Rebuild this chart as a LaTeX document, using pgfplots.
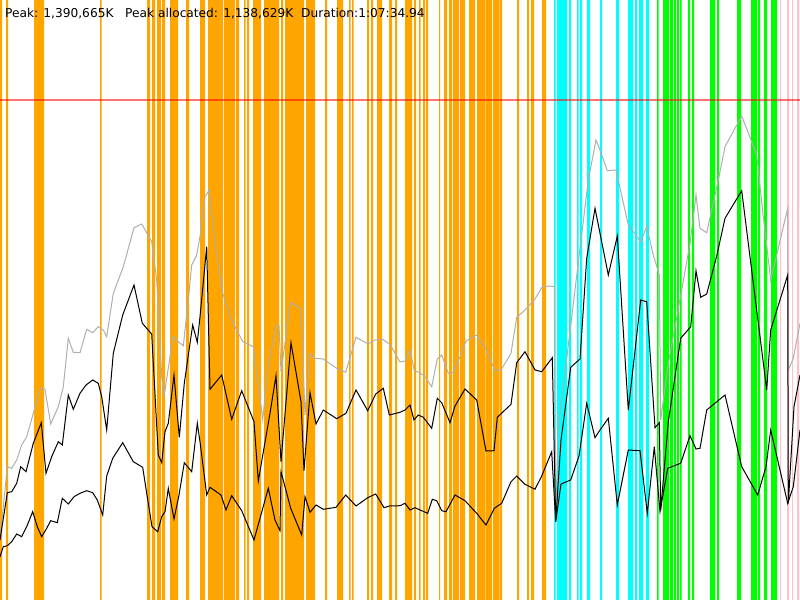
\documentclass[border=0pt]{standalone}
\usepackage{pgfplots}
\pgfplotsset{compat=1.18}
\usepackage{pgfplotstable}
\usepackage{fontspec}
\setmainfont{DejaVu Sans}
\definecolor{orng}{RGB}{255,165,0}
\definecolor{cyn}{RGB}{0,255,255}
\definecolor{grn}{RGB}{0,255,0}
\definecolor{pnk}{RGB}{255,192,203}
\definecolor{lgray}{RGB}{175,175,175}

% bars: start (y=600) and end (y=0) of each band
\pgfplotstableread{
x y
0 600
2 0
6 600
8 0
34 600
44 0
100 600
101.5 0
147 600
150 0
152 600
155 0
157 600
161 0
162 600
165 0
170 600
178 0
186 600
189 0
200 600
205 0
208 600
223 0
224 600
235 0
236 600
239 0
244 600
245.5 0
247 600
249 0
253 600
261 0
264 600
279 0
281 600
283 0
285 600
304 0
306 600
315 0
325 600
327 0
337 600
343 0
349 600
350.5 0
352 600
353.5 0
367 600
369 0
371 600
373 0
377 600
382 0
389 600
392 0
395 600
397 0
405 600
412 0
414 600
416 0
419 600
420.5 0
423 600
425 0
426 600
428 0
439 600
440 0
444 600
447 0
449 600
452 0
453 600
459 0
460 600
465 0
469 600
475 0
477 600
485 0
485.5 600
492 0
493 600
499 0
499.5 600
502 0
517 600
519 0
527 600
529 0
531 600
534 0
542 600
546 0
}\orangebars

\pgfplotstableread{
x y
554 600
555.5 0
557 600
567 0
569 600
571 0
577 600
578.5 0
580 600
582 0
587 600
590 0
600 600
602 0
616 600
619 0
628 600
633 0
635 600
637 0
639 600
643 0
646 600
649 0
}\cyanbars

\pgfplotstableread{
x y
657 600
658.5 0
663 600
669 0
670 600
673 0
674 600
676 0
677 600
679 0
680 600
681.5 0
688 600
690 0
692 600
694 0
710 600
715 0
717 600
719 0
737 600
741 0
751 600
757 0
758 600
760 0
764 600
767 0
771 600
777 0
}\greenbars

\pgfplotstableread{
x y
780 600
781 0
787 600
789 0
792 600
793 0
797 600
799 0
}\pinkbars

\pgfplotstableread{
x y
0 540
7.3 466.7
11.7 468.3
16.7 460
21.7 445
26.7 436.7
33.3 413.3
40.7 388.3
45 389.3
50.7 424
58.3 406.7
63.3 386.7
68.3 338.3
73.3 352.3
80 352.7
86.7 329.3
92.7 332.7
98.3 326.7
103.3 330
106.7 336.7
113.3 293.3
123.3 266.7
134 227.7
141.7 224
151.7 241.7
156.7 280
161.7 376.7
164.3 395
170 356.7
173.3 336.7
178.3 341.7
183.3 345.7
188.3 300
191.7 265
196.7 255
200 236.7
205 196.7
209.3 190
215 243.3
222.7 293.3
231.7 320
242.7 341.7
253.3 346.7
262.7 419.3
268.3 366.7
276 325.7
279 325.7
281 371.7
290.7 302.7
301 308.3
305 415
310 353.3
315 358.3
323.3 359
336.7 368.3
345.7 372.3
356 337.3
368.3 344
375 340
382.7 339.3
390 344.3
400 362
405 361
410 350
414.3 370.7
420 372.7
425 376.7
431.7 386.7
437.3 359
441.7 355
448.3 373.3
453.3 372.3
460 356.7
466 341
476.7 335
486 349.3
495 370.7
501 370
511 353.3
516.7 317.3
525 310
535 299
541.7 287.7
548.3 286
554.3 286.7
555.7 521
558 430
588.3 180
596 140
600 150
607.3 170.7
616 170
628.3 225
640.7 241.7
646.7 226.7
653.3 255
659.3 275
660.7 420
668.3 363.3
681.7 290
690 243.3
696 195
700 228.3
706.7 232.7
718.3 180
725 146.7
741.7 116
756.7 155
763.3 216.7
770.7 280
787.7 208.3
788.3 370
793.3 358.3
800 323.3
}\graydata

\pgfplotstableread{
x y
0 540
7.3 492.7
11.7 491.7
16.7 483.3
20.7 466.7
26 471.7
33.3 443.3
41.3 422.7
46 473.3
51.7 456.7
58.3 441.7
62.3 445
68.3 395
73.3 409.3
80 393.3
86 385
92.7 380
98.3 383.3
101.7 396.7
106.7 430
113.3 353.3
122.7 315
134 285
142.3 323.3
151.7 334
158.3 455
161.7 462.7
165 431.7
168.3 423.3
174 375
179.3 437.3
184.3 383.3
189.3 348.3
192.7 325
197.3 342.3
200 316.7
206.7 246.7
210 389.3
221.7 375
231.7 419.3
241.7 390.7
254 421.7
258.3 481
270 413.3
276 375.7
281 461.7
291 342.7
301 401.7
304 470.7
310 392.7
316 424
323.3 410
336.7 418.7
346 413.3
356 390
367.7 410.7
375.7 394
383.3 388.3
389.3 415
400 412.3
405 410
410 405
414 420
418.3 415
423.3 417.3
431.7 428.3
437.3 398.3
441.7 402.7
450 422.7
455 406
465 389
476.7 400
486 451
494 450.7
497.3 417.3
511 404.3
516.7 362.7
525 351.7
535 370
541.7 371.7
552.3 357.7
555.7 521.7
561 440
570.7 367.3
580 359
586.7 258.3
595 208.3
600 233.3
608.3 275
617.3 236
628.3 410
640.7 300
646.7 301.7
655 427.7
659.3 422.7
660.7 510
668.3 421.7
680.7 338.3
690.7 326.7
696 270.7
700.7 297.3
706.7 294
716.7 256
725 218.3
741.7 190.7
766.7 390
770.7 330
787.7 275
788.3 503.3
794 406.7
800 375
}\middata

\pgfplotstableread{
x y
0 556.7
3.3 546.7
7.3 545.7
11.7 541.7
16.7 534
21.7 536.7
26.7 526.7
32.7 511.7
37.3 526.7
41.7 536.7
46.7 528.3
50.7 520.7
57.3 522.7
62.3 498.3
68.3 504
74 496.7
80 493.3
86.7 490.7
92.7 492.7
97.3 500
102.7 515
106.7 476
112.7 458.3
122.7 442.7
133.3 461.7
142.7 467.3
146.7 493.3
152 526.7
157.7 531.7
161.7 516.7
165 511.7
168.3 488.3
174 519
179 495
184.3 462.7
191.7 471.7
197.3 423.3
200 441.7
206.7 495
210 487.3
221 495
226 510
231.7 495.7
241.7 510.7
254 540
268.3 488.3
275 520
280 530.7
281 471.7
290.7 508.3
301.7 535
305 496.7
310 512.3
316 505
323.3 509.3
336 507.3
345.7 495
356 506
367.7 497.7
375.7 494
384 507.7
389.3 506
400 505.7
405 503.3
410 510
415 507.7
421.7 510.7
427.7 513.3
432.3 499.3
436.7 500.7
441.7 510.7
446 511.7
455 495
465 500.7
476.7 513.3
486 525
494.3 508.3
501.7 503.3
511 481.7
516.7 476
525 484.3
535 489.3
541.7 476
551.7 451.7
555.7 521.7
561 484
570.7 480
579 456
586.7 403.3
595 437.7
600 430
608.3 418.3
617.3 505
628.3 450
640 450.7
647.3 513.3
654.3 446.7
660 511.7
667.7 468.3
680.7 463.3
690 435.7
696 449
700 448.3
706.7 410
725 395
741.7 466.7
757.7 495
766 466.7
770.7 430
787.7 503.3
793.3 486.7
800 430
}\lowdata

\begin{document}
\begin{tikzpicture}
\begin{axis}[
  width=800bp, height=600bp, scale only axis,
  xmin=0, xmax=800, ymin=0, ymax=600,
  y dir=reverse,
  axis line style={draw=none},
  xtick=\empty, ytick=\empty,
  axis background/.style={fill=white},
  clip=true,
]
\addplot[const plot, fill=orng, draw=none] table {\orangebars} \closedcycle;
\addplot[const plot, fill=cyn, draw=none] table {\cyanbars} \closedcycle;
\addplot[const plot, fill=grn, draw=none] table {\greenbars} \closedcycle;
\addplot[const plot, fill=pnk, draw=none] table {\pinkbars} \closedcycle;
\addplot[draw=red, opacity=0.55, line width=1.8bp] coordinates {(0,100) (800,100)};
\addplot[draw=lgray, line width=1bp] table {\graydata};
\addplot[draw=black, line width=1bp] table {\middata};
\addplot[draw=black, line width=1bp] table {\lowdata};
\node[anchor=base west, inner sep=0pt, font=\fontsize{12.2bp}{14bp}\selectfont] at (axis cs:5,17.5) {Peak: 1,390,665K};
\node[anchor=base west, inner sep=0pt, font=\fontsize{12.2bp}{14bp}\selectfont] at (axis cs:125,17.5) {Peak allocated: 1,138,629K};
\node[anchor=base west, inner sep=0pt, font=\fontsize{12.2bp}{14bp}\selectfont] at (axis cs:301,17.5) {Duration:1:07:34.94};
\end{axis}
\end{tikzpicture}
\end{document}
